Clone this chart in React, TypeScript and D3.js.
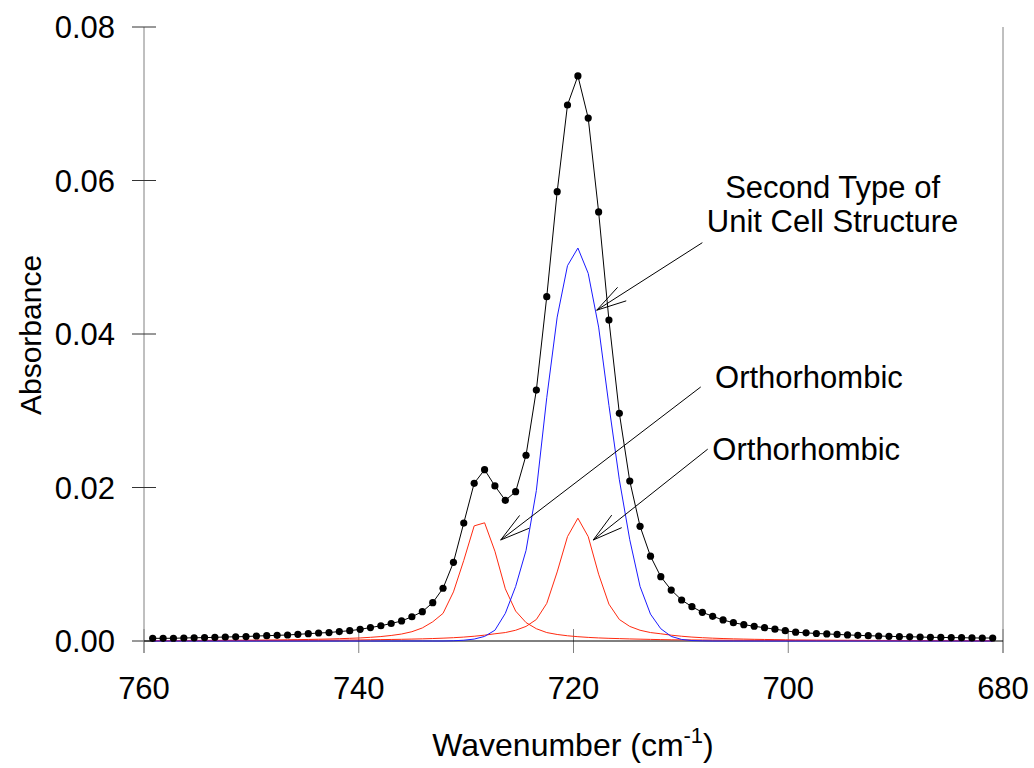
import React from "react";
import * as d3 from "d3";

const wavenumbers = [
  759.19, 758.22, 757.26, 756.29, 755.33, 754.36, 753.4, 752.43, 751.46, 750.5,
  749.53, 748.57, 747.6, 746.63, 745.67, 744.7, 743.74, 742.77, 741.81, 740.84,
  739.87, 738.91, 737.94, 736.98, 736.01, 735.05, 734.08, 733.11, 732.15, 731.18,
  730.22, 729.25, 728.28, 727.32, 726.35, 725.39, 724.42, 723.46, 722.49, 721.52,
  720.56, 719.59, 718.63, 717.66, 716.7, 715.73, 714.76, 713.8, 712.83, 711.87,
  710.9, 709.93, 708.97, 708.0, 707.04, 706.07, 705.11, 704.14, 703.17, 702.21,
  701.24, 700.28, 699.31, 698.34, 697.38, 696.41, 695.45, 694.48, 693.52, 692.55,
  691.58, 690.62, 689.65, 688.69, 687.72, 686.76, 685.79, 684.82, 683.86, 682.89,
  681.93, 680.96,
];

const measured = [
  0.00035, 0.00035, 0.00036, 0.00039, 0.00042, 0.00044, 0.00048, 0.00052, 0.00055, 0.00058,
  0.00065, 0.00069, 0.00074, 0.00078, 0.00087, 0.00095, 0.00104, 0.0011, 0.00123, 0.00134,
  0.00152, 0.00175, 0.00199, 0.00228, 0.00261, 0.00316, 0.00382, 0.00499, 0.00687, 0.01025,
  0.01537, 0.02055, 0.02232, 0.0202, 0.01833, 0.01945, 0.0242, 0.0327, 0.04486, 0.05854,
  0.06984, 0.07362, 0.06814, 0.0559, 0.04182, 0.02967, 0.02085, 0.01494, 0.01105, 0.00838,
  0.00664, 0.00534, 0.00447, 0.00374, 0.00322, 0.00274, 0.00239, 0.00213, 0.00192, 0.00173,
  0.00154, 0.00134, 0.00115, 0.00106, 0.00098, 0.00092, 0.00086, 0.00079, 0.00074, 0.00069,
  0.00065, 0.00061, 0.00057, 0.00055, 0.00052, 0.00048, 0.00047, 0.00044, 0.00043, 0.0004,
  0.00039, 0.00039,
];

const orthoLeft = [
  0.000056, 0.00006, 0.000064, 0.000068, 0.000073, 0.000079, 0.000085, 0.000092, 0.0001, 0.00011,
  0.00012, 0.00013, 0.00014, 0.00016, 0.00018, 0.0002, 0.00023, 0.00026, 0.0003, 0.00035,
  0.0004, 0.00048, 0.00058, 0.00072, 0.00091, 0.00121, 0.0017, 0.0025, 0.0036, 0.0064,
  0.0105, 0.015, 0.0154, 0.0117, 0.0068, 0.0039, 0.0024, 0.0016, 0.0011, 0.00085,
  0.00068, 0.00056, 0.00047, 0.0004, 0.00035, 0.00031, 0.00027, 0.00024, 0.00021, 0.00018,
  0.00016, 0.00015, 0.00014, 0.00013, 0.00012, 0.00011, 0.0001, 0.000093, 0.000086, 0.00008,
  0.000074, 0.000069, 0.000065, 0.000061, 0.000057, 0.000054, 0.000051, 0.000048, 0.000045, 0.000043,
  0.000041, 0.000039, 0.000037, 0.000035, 0.000033, 0.000032, 0.00003, 0.000029, 0.000028, 0.000027,
  0.000026, 0.000025,
];

const orthoRight = [
  0.000038, 0.00004, 0.000042, 0.000044, 0.000047, 0.000049, 0.000052, 0.000055, 0.000059, 0.000062,
  0.000066, 0.000071, 0.000076, 0.000081, 0.000087, 0.000094, 0.0001, 0.00011, 0.00012, 0.00013,
  0.00014, 0.00016, 0.00018, 0.0002, 0.00022, 0.00025, 0.00028, 0.00032, 0.00037, 0.00043,
  0.00051, 0.00062, 0.00076, 0.00094, 0.0011, 0.0014, 0.0019, 0.0028, 0.0049, 0.009,
  0.0136, 0.016, 0.0136, 0.0087, 0.0048, 0.0028, 0.0019, 0.0014, 0.0011, 0.00094,
  0.00076, 0.00062, 0.00051, 0.00043, 0.00037, 0.00032, 0.00028, 0.00025, 0.00022, 0.0002,
  0.00018, 0.00016, 0.00014, 0.00013, 0.00012, 0.00011, 0.0001, 0.000094, 0.000087, 0.000081,
  0.000076, 0.000071, 0.000066, 0.000062, 0.000059, 0.000055, 0.000052, 0.000049, 0.000047, 0.000044,
  0.000042, 0.00004,
];

const secondType = [
  0, 0, 0, 0, 0, 0, 0, 0, 0, 0,
  0, 0, 0, 0, 0, 0, 0, 0, 0, 0,
  0, 0, 0, 0, 0, 0, 0, 0, 0, 0.00003,
  0.0001, 0.00025, 0.0006, 0.0014, 0.0036, 0.0071, 0.0118, 0.0196, 0.0317, 0.0422,
  0.0489, 0.0512, 0.0479, 0.0409, 0.0307, 0.021, 0.0132, 0.0071, 0.0035, 0.0016,
  0.0006, 0.0002, 0.00006, 0.00002, 0, 0, 0, 0, 0, 0,
  0, 0, 0, 0, 0, 0, 0, 0, 0, 0,
  0, 0, 0, 0, 0, 0, 0, 0, 0, 0,
  0, 0,
];

const xTicks = [760, 740, 720, 700, 680];
const yTicks = [0, 0.02, 0.04, 0.06, 0.08];

// annotation texts and arrows in data coordinates
const annotationLines = [
  { text: "Second Type of", wn: 695.87, a: 0.0577, anchor: "middle" },
  { text: "Unit Cell Structure", wn: 695.87, a: 0.0533, anchor: "middle" },
  { text: "Orthorhombic", wn: 706.82, a: 0.03296, anchor: "start" },
  { text: "Orthorhombic", wn: 707.07, a: 0.02358, anchor: "start" },
];
const arrows = [
  { fromWn: 708.0, fromA: 0.0519, toWn: 717.84, toA: 0.0431 },
  { fromWn: 708.15, fromA: 0.0331, toWn: 726.78, toA: 0.01316 },
  { fromWn: 707.5, fromA: 0.025, toWn: 718.16, toA: 0.01316 },
];

const FONT = "'Liberation Sans', Arial, Helvetica, sans-serif";

export default function App() {
  const W = 1034;
  const H = 768;
  const x = d3.scaleLinear().domain([760, 680]).range([144, 1003]);
  const y = d3.scaleLinear().domain([0, 0.08]).range([641, 27]);

  const line = (vals: number[]) =>
    d3
      .line<number>()
      .x((_, i) => x(wavenumbers[i]))
      .y((v) => y(v))(vals) || "";

  const axisGray = "#808080";
  const tickLen = 12;
  const red = "#ff2a10";
  const FS = 31;

  const arrowHead = (a: (typeof arrows)[number]) => {
    const tx = x(a.toWn);
    const ty = y(a.toA);
    const fx = x(a.fromWn);
    const fy = y(a.fromA);
    const ang = Math.atan2(fy - ty, fx - tx);
    const len = 31;
    const spread = (15 * Math.PI) / 180;
    const p1 = [tx + len * Math.cos(ang - spread), ty + len * Math.sin(ang - spread)];
    const p2 = [tx + len * Math.cos(ang + spread), ty + len * Math.sin(ang + spread)];
    return `M${p1[0]},${p1[1]}L${tx},${ty}L${p2[0]},${p2[1]}`;
  };

  return (
    <svg
      width={W}
      height={H}
      style={{ position: "absolute", left: 0, top: 0, background: "#fff" }}
      fontFamily={FONT}
    >
      <rect x={0} y={0} width={W} height={H} fill="#fff" />
      {/* axes */}
      <line x1={x(760)} x2={x(760)} y1={y(0.08)} y2={y(0) + tickLen} stroke={axisGray} strokeWidth={1} />
      <line x1={x(680)} x2={x(680)} y1={y(0.08)} y2={y(0) + tickLen} stroke={axisGray} strokeWidth={1} />
      {yTicks.map((t) => (
        <g key={"y" + t}>
          <line x1={x(760) - tickLen} x2={x(760) + tickLen} y1={y(t)} y2={y(t)} stroke="#333" strokeWidth={1} />
          <text x={x(760) - 29} y={y(t) + 11} textAnchor="end" fontSize={FS} fill="#000">
            {d3.format(".2f")(t)}
          </text>
        </g>
      ))}
      {xTicks.map((t) => (
        <g key={"x" + t}>
          <line x1={x(t)} x2={x(t)} y1={y(0) - tickLen} y2={y(0) + tickLen} stroke={axisGray} strokeWidth={1} />
          <text x={x(t)} y={699} textAnchor="middle" fontSize={FS} fill="#000">
            {t}
          </text>
        </g>
      ))}
      <line x1={x(760)} x2={x(680)} y1={y(0)} y2={y(0)} stroke="#000" strokeWidth={1} />

      {/* component curves */}
      <path d={line(orthoLeft)} fill="none" stroke={red} strokeWidth={1} />
      <path d={line(orthoRight)} fill="none" stroke={red} strokeWidth={1} />
      <path d={line(secondType)} fill="none" stroke="#1a1aff" strokeWidth={1} />

      {/* measured spectrum */}
      <path d={line(measured)} fill="none" stroke="#000" strokeWidth={1} />
      {measured.map((v, i) => (
        <circle key={i} cx={x(wavenumbers[i])} cy={y(v)} r={3.6} fill="#000" />
      ))}

      {/* annotations */}
      {arrows.map((a, i) => (
        <g key={"a" + i} stroke="#000" strokeWidth={1} fill="none">
          <line x1={x(a.fromWn)} y1={y(a.fromA)} x2={x(a.toWn)} y2={y(a.toA)} />
          <path d={arrowHead(a)} />
        </g>
      ))}
      {annotationLines.map((l, i) => (
        <text key={"t" + i} x={x(l.wn)} y={y(l.a)} textAnchor={l.anchor as any} fontSize={FS} fill="#000">
          {l.text}
        </text>
      ))}

      {/* axis titles */}
      <text x={573} y={756} textAnchor="middle" fontSize={32} fill="#000">
        Wavenumber (cm<tspan dy={-13} fontSize={22}>-1</tspan>
        <tspan dy={13}>)</tspan>
      </text>
      <text transform={`translate(41,335) rotate(-90)`} textAnchor="middle" fontSize={30} fill="#000">
        Absorbance
      </text>
    </svg>
  );
}
